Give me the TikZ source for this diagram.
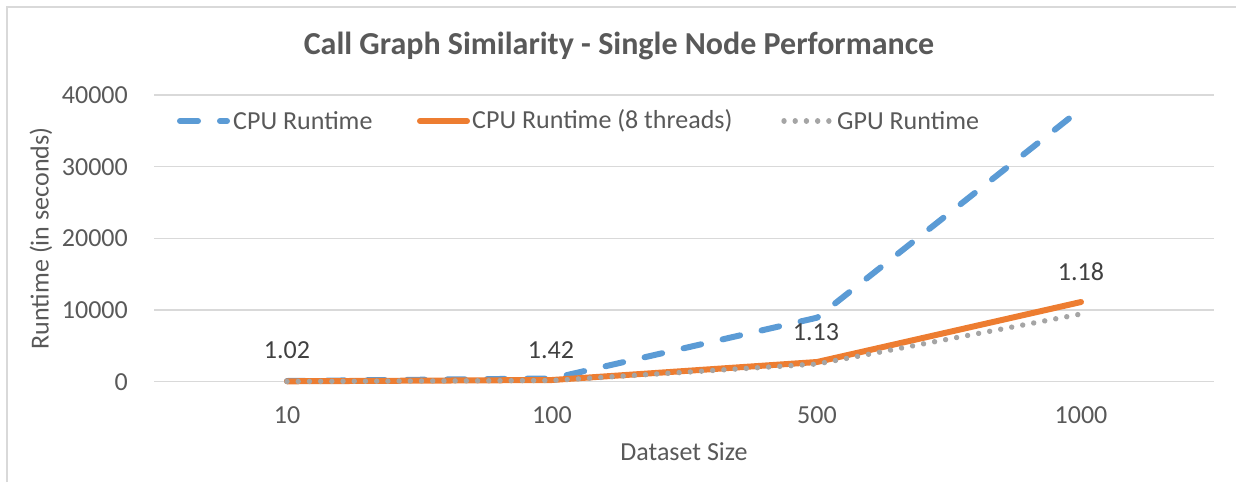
\documentclass[tikz,border=0pt]{standalone}
\usepackage{fontspec}
\setmainfont{Carlito}
\definecolor{txtgray}{HTML}{595959}
\definecolor{lblgray}{HTML}{404040}
\definecolor{gridc}{HTML}{D9D9D9}
\definecolor{cpublue}{HTML}{5B9BD5}
\definecolor{cpuorange}{HTML}{ED7D31}
\definecolor{gpugray}{HTML}{A5A5A5}
\tikzset{
  lbl/.style={inner sep=0pt, font=\fontsize{26}{30}\selectfont, text=txtgray},
  datalbl/.style={inner sep=0pt, font=\fontsize{26}{30}\selectfont, text=lblgray},
  gridline/.style={gridc, line width=1.3pt},
  cpuser/.style={cpublue, line width=6pt, line cap=round, line join=round, dash pattern=on 18pt off 22pt},
  thrser/.style={cpuorange, line width=6pt, line cap=round, line join=round},
  gpuser/.style={gpugray, line width=5.4pt, line cap=round, dash pattern=on 0.01pt off 11.2pt}
}
\begin{document}
\begin{tikzpicture}[x=1pt,y=-1pt]
\useasboundingbox (0,0) rectangle (1236,482);
% frame
\draw[gridc, line width=2pt] (7,482) -- (7,7) -- (1236,7);
% title
\node[lbl, font=\fontsize{32}{36}\selectfont\bfseries] (title) at (619,46) {Call Graph Similarity - Single Node Performance};
% grid and y ticks
\foreach \v/\y in {0/381.7,10000/310,20000/238.4,30000/166.7,40000/95}{
  \draw[gridline] (154,\y) -- (1214,\y);
  \node[lbl, anchor=east] (ytick\v) at (128,\y) {\v};
}
% x ticks
\node[lbl] (x10) at (287,415) {10};
\node[lbl] (x100) at (552,415) {100};
\node[lbl] (x500) at (817,415) {500};
\node[lbl] (x1000) at (1081,415) {1000};
% axis titles
\node[lbl] (xtitle) at (684,452) {Dataset Size};
\node[lbl, rotate=90] (ytitle) at (41,238.4) {Runtime (in seconds)};
% data points
\coordinate (b1) at (287,381);
\coordinate (b2) at (552,378.5);
\coordinate (b3) at (817,317.7);
\coordinate (b4) at (1081,109);
\coordinate (o1) at (287,381.3);
\coordinate (o2) at (552,380);
\coordinate (o3) at (817,362);
\coordinate (o4) at (1081,302);
\coordinate (g1) at (287,381.5);
\coordinate (g2) at (552,380.5);
\coordinate (g3) at (817,364);
\coordinate (g4) at (1081,314);
\draw[cpuser] (b1) -- (b2) -- (b3) -- (b4);
\draw[thrser] (o1) -- (o2) -- (o3) -- (o4);
\draw[gpuser] (g1) -- (g2) -- (g3) -- (g4);
% data labels
\node[datalbl] (d1) at (287,350) {1.02};
\node[datalbl] (d2) at (551,350) {1.42};
\node[datalbl] (d3) at (816,332) {1.13};
\node[datalbl] (d4) at (1081,272) {1.18};
% legend
\coordinate (l1a) at (180,121);
\coordinate (l1b) at (227,121);
\draw[cpuser] (l1a) -- (l1b);
\node[lbl, anchor=west] (leg1) at (233,121) {CPU Runtime};
\coordinate (l2a) at (420,121);
\coordinate (l2b) at (467,121);
\draw[thrser] (l2a) -- (l2b);
\node[lbl, anchor=west] (leg2) at (472,121) {CPU Runtime (8 threads)};
\coordinate (l3a) at (784,121);
\coordinate (l3b) at (831,121);
\draw[gpuser] (l3a) -- (l3b);
\node[lbl, anchor=west] (leg3) at (837,121) {GPU Runtime};
\end{tikzpicture}
\end{document}
